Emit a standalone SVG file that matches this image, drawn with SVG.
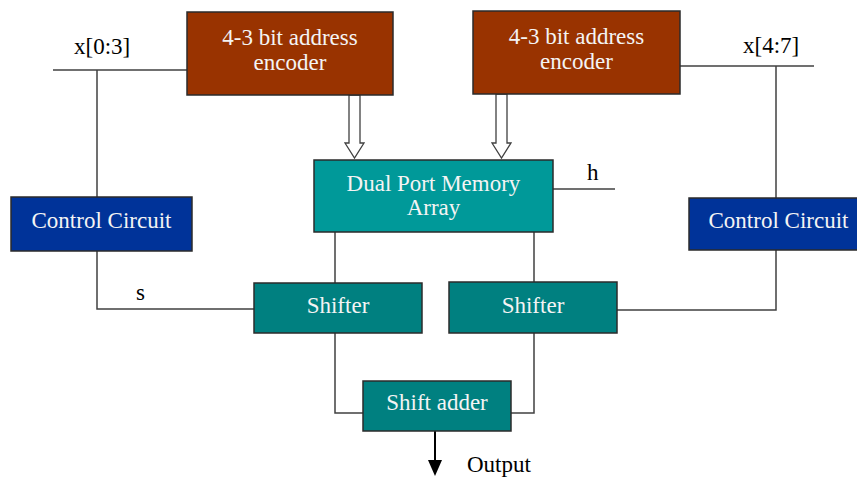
<svg xmlns="http://www.w3.org/2000/svg" width="857" height="477" viewBox="0 0 857 477">
  <style>
    .box { stroke: #2b2b2b; stroke-width: 1.5; }
    .enc { fill: #993300; }
    .ctl { fill: #003399; }
    .mem { fill: #009999; }
    .sh { fill: #008080; }
    .wire { fill: none; stroke: #404040; stroke-width: 1.5; }
    .bus { fill: #ffffff; stroke: #404040; stroke-width: 1.3; }
    .lbl { font-family: "Liberation Serif", "Times New Roman", serif; font-size: 23px; text-anchor: middle; fill: #f4f4f4; }
    .sig { font-family: "Liberation Serif", "Times New Roman", serif; font-size: 23px; fill: #000000; }
  </style>

  <rect width="857" height="477" fill="#ffffff"/>

  <g id="connectors">
    <!-- input buses -->
    <polyline class="wire" points="53,70 187,70"/>
    <polyline class="wire" points="97,70 97,197"/>
    <polyline class="wire" points="680,66 814,66"/>
    <polyline class="wire" points="776,66 776,198"/>
    <!-- shift control -->
    <polyline class="wire" points="97,251 97,309 254,309"/>
    <polyline class="wire" points="776,250 776,310 617,310"/>
    <!-- memory to shifters -->
    <polyline class="wire" points="335,232 335,283"/>
    <polyline class="wire" points="534,232 534,282"/>
    <!-- h output -->
    <polyline class="wire" points="553,189 615,189"/>
    <!-- shifters to adder -->
    <polyline class="wire" points="335,333 335,413 363,413"/>
    <polyline class="wire" points="534,333 534,413 511,413"/>
    <!-- address buses -->
    <polygon class="bus" points="349,95 360,95 360,143 364,143 354.5,158 345,143 349,143"/>
    <polygon class="bus" points="496,94 507,94 507,143 511,143 501.5,158 492,143 496,143"/>
    <!-- output -->
    <line x1="435" y1="431" x2="435" y2="461" stroke="#000" stroke-width="2"/>
    <polygon points="428,460 442,460 435,476" fill="#000"/>
  </g>

  <g id="encoder-left">
    <rect class="box enc" x="187" y="12" width="206" height="83"/>
    <text class="lbl" x="290" y="45">4-3 bit address</text>
    <text class="lbl" x="290" y="70">encoder</text>
  </g>

  <g id="encoder-right">
    <rect class="box enc" x="473" y="11" width="207" height="83"/>
    <text class="lbl" x="576.5" y="44">4-3 bit address</text>
    <text class="lbl" x="576.5" y="69">encoder</text>
  </g>

  <g id="memory">
    <rect class="box mem" x="314" y="160" width="239" height="72"/>
    <text class="lbl" x="433.5" y="191">Dual Port Memory</text>
    <text class="lbl" x="433.5" y="215">Array</text>
  </g>

  <g id="control-left">
    <rect class="box ctl" x="11" y="197" width="181" height="54"/>
    <text class="lbl" x="101.5" y="228">Control Circuit</text>
  </g>

  <g id="control-right">
    <rect class="box ctl" x="689" y="198" width="170" height="52"/>
    <text class="lbl" x="778.5" y="228">Control Circuit</text>
  </g>

  <g id="shifter-left">
    <rect class="box sh" x="254" y="283" width="168" height="50"/>
    <text class="lbl" x="338" y="313">Shifter</text>
  </g>

  <g id="shifter-right">
    <rect class="box sh" x="449" y="282" width="168" height="51"/>
    <text class="lbl" x="533" y="313">Shifter</text>
  </g>

  <g id="shift-adder">
    <rect class="box sh" x="363" y="381" width="148" height="50"/>
    <text class="lbl" x="437" y="410">Shift adder</text>
  </g>

  <g id="labels">
    <text class="sig" x="74" y="54">x[0:3]</text>
    <text class="sig" x="743" y="53">x[4:7]</text>
    <text class="sig" x="587" y="180">h</text>
    <text class="sig" x="136" y="300">s</text>
    <text class="sig" x="467" y="472">Output</text>
  </g>
</svg>
